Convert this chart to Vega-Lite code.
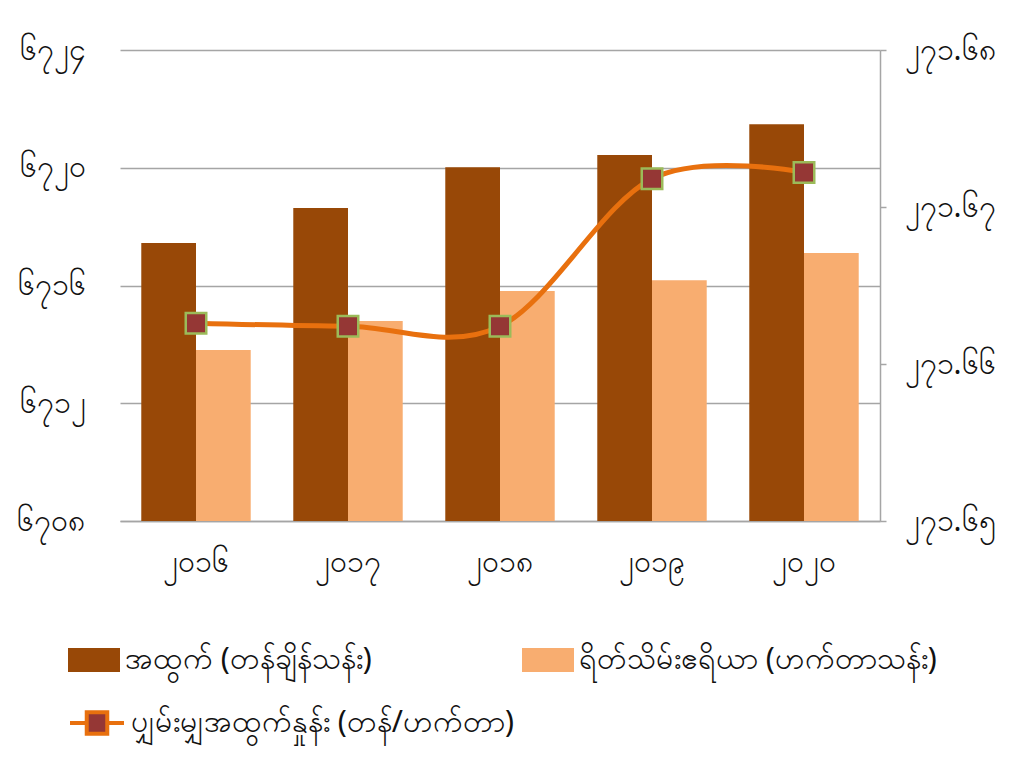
{
  "$schema": "https://vega.github.io/schema/vega-lite/v6.json",
  "autosize": "none",
  "width": 760,
  "height": 471,
  "padding": {"left": 120, "top": 50, "right": 131, "bottom": 242},
  "background": "white",
  "config": {
    "view": {"stroke": null},
    "font": "Noto Sans",
    "axis": {"labelColor": "#111111", "labelFontSize": 30, "title": null},
    "legend": {"labelColor": "#111111", "labelFontSize": 30, "labelLimit": 600}
  },
  "datasets": {
    "bars": [
      {"year": "2016", "series": "အထွက် (တန်ချိန်သန်း)", "value": 6717.44},
      {"year": "2017", "series": "အထွက် (တန်ချိန်သန်း)", "value": 6718.63},
      {"year": "2018", "series": "အထွက် (တန်ချိန်သန်း)", "value": 6720.02},
      {"year": "2019", "series": "အထွက် (တန်ချိန်သန်း)", "value": 6720.43},
      {"year": "2020", "series": "အထွက် (တန်ချိန်သန်း)", "value": 6721.48},
      {"year": "2016", "series": "ရိတ်သိမ်းဧရိယာ (ဟက်တာသန်း)", "value": 6713.81},
      {"year": "2017", "series": "ရိတ်သိမ်းဧရိယာ (ဟက်တာသန်း)", "value": 6714.79},
      {"year": "2018", "series": "ရိတ်သိမ်းဧရိယာ (ဟက်တာသန်း)", "value": 6715.81},
      {"year": "2019", "series": "ရိတ်သိမ်းဧရိယာ (ဟက်တာသန်း)", "value": 6716.18},
      {"year": "2020", "series": "ရိတ်သိမ်းဧရိယာ (ဟက်တာသန်း)", "value": 6717.10}
    ],
    "yield": [
      {"year": "2016", "series": "ပျှမ်းမျှအထွက်နှုန်း (တန်/ဟက်တာ)", "yield": 271.6626},
      {"year": "2017", "series": "ပျှမ်းမျှအထွက်နှုန်း (တန်/ဟက်တာ)", "yield": 271.6624},
      {"year": "2018", "series": "ပျှမ်းမျှအထွက်နှုန်း (တန်/ဟက်တာ)", "yield": 271.6624},
      {"year": "2019", "series": "ပျှမ်းမျှအထွက်နှုန်း (တန်/ဟက်တာ)", "yield": 271.6718},
      {"year": "2020", "series": "ပျှမ်းမျှအထွက်နှုန်း (တန်/ဟက်တာ)", "yield": 271.6722}
    ]
  },
  "layer": [
    {
      "data": {"name": "bars"},
      "mark": {"type": "bar"},
      "encoding": {
        "x": {
          "field": "year", "type": "nominal",
          "scale": {"paddingInner": 0.28, "paddingOuter": 0.14},
          "axis": {
            "labelAngle": 0, "domain": true, "domainColor": "#A5A5A5", "domainWidth": 1.5,
            "ticks": false, "labelPadding": 26,
            "labelExpr": "replace(replace(replace(replace(replace(replace(replace(replace(replace(replace(datum.label,regexp('0','g'),'၀'),regexp('1','g'),'၁'),regexp('2','g'),'၂'),regexp('3','g'),'၃'),regexp('4','g'),'၄'),regexp('5','g'),'၅'),regexp('6','g'),'၆'),regexp('7','g'),'၇'),regexp('8','g'),'၈'),regexp('9','g'),'၉')"
          }
        },
        "xOffset": {
          "field": "series", "type": "nominal",
          "sort": ["အထွက် (တန်ချိန်သန်း)", "ရိတ်သိမ်းဧရိယာ (ဟက်တာသန်း)"],
          "scale": {"paddingInner": 0, "paddingOuter": 0}
        },
        "y": {
          "field": "value", "type": "quantitative",
          "scale": {"domain": [6708, 6724], "nice": false, "zero": false},
          "axis": {
            "values": [6708, 6712, 6716, 6720, 6724], "format": "d",
            "grid": true, "gridColor": "#A5A5A5", "gridWidth": 1.5,
            "domain": false, "ticks": false, "labelPadding": 35,
            "labelExpr": "replace(replace(replace(replace(replace(replace(replace(replace(replace(replace(datum.label,regexp('0','g'),'၀'),regexp('1','g'),'၁'),regexp('2','g'),'၂'),regexp('3','g'),'၃'),regexp('4','g'),'၄'),regexp('5','g'),'၅'),regexp('6','g'),'၆'),regexp('7','g'),'၇'),regexp('8','g'),'၈'),regexp('9','g'),'၉')"
          }
        },
        "y2": {"datum": 6708},
        "color": {
          "field": "series", "type": "nominal",
          "scale": {
            "domain": ["အထွက် (တန်ချိန်သန်း)", "ရိတ်သိမ်းဧရိယာ (ဟက်တာသန်း)"],
            "range": ["#984807", "#F8AD70"]
          },
          "legend": {
            "orient": "none", "legendX": -52, "legendY": 584,
            "direction": "horizontal", "columns": 2, "columnPadding": 150,
            "title": null,
            "symbolType": "M-1,-0.46H1V0.46H-1Z", "symbolSize": 2704, "symbolStrokeWidth": 0,
            "labelOffset": 5
          }
        }
      }
    },
    {
      "data": {"name": "yield"},
      "layer": [
        {
          "mark": {"type": "line", "interpolate": "cardinal", "strokeWidth": 5},
          "encoding": {
            "x": {"field": "year", "type": "nominal"},
            "y": {
              "field": "yield", "type": "quantitative",
              "scale": {"domain": [271.65, 271.68], "nice": false, "zero": false},
              "axis": {
                "orient": "right", "values": [271.65, 271.66, 271.67, 271.68], "format": ".2f",
                "grid": false, "domain": true, "domainColor": "#A5A5A5", "domainWidth": 1.5,
                "ticks": true, "tickColor": "#A5A5A5", "tickSize": 6, "tickWidth": 1.5, "labelPadding": 18,
                "labelExpr": "replace(replace(replace(replace(replace(replace(replace(replace(replace(replace(datum.label,regexp('0','g'),'၀'),regexp('1','g'),'၁'),regexp('2','g'),'၂'),regexp('3','g'),'၃'),regexp('4','g'),'၄'),regexp('5','g'),'၅'),regexp('6','g'),'၆'),regexp('7','g'),'၇'),regexp('8','g'),'၈'),regexp('9','g'),'၉')"
              }
            },
            "stroke": {
              "field": "series", "type": "nominal",
              "scale": {"range": ["#E8700E"]},
              "legend": {
                "orient": "none", "legendX": -52, "legendY": 644,
                "title": null,
                "symbolType": "M-1,0H-0.38M0.38,0H1M-0.38,-0.4H0.38V0.4H-0.38Z",
                "symbolSize": 2916, "symbolStrokeWidth": 4,
                "symbolFillColor": "#953735",
                "labelOffset": 5
              }
            }
          }
        },
        {
          "mark": {"type": "point", "shape": "square", "filled": true, "size": 420, "fill": "#953735", "stroke": "#9BBB59", "strokeWidth": 2.5, "opacity": 1},
          "encoding": {
            "x": {"field": "year", "type": "nominal"},
            "y": {"field": "yield", "type": "quantitative"}
          }
        }
      ]
    }
  ],
  "resolve": {"scale": {"y": "independent"}}
}
